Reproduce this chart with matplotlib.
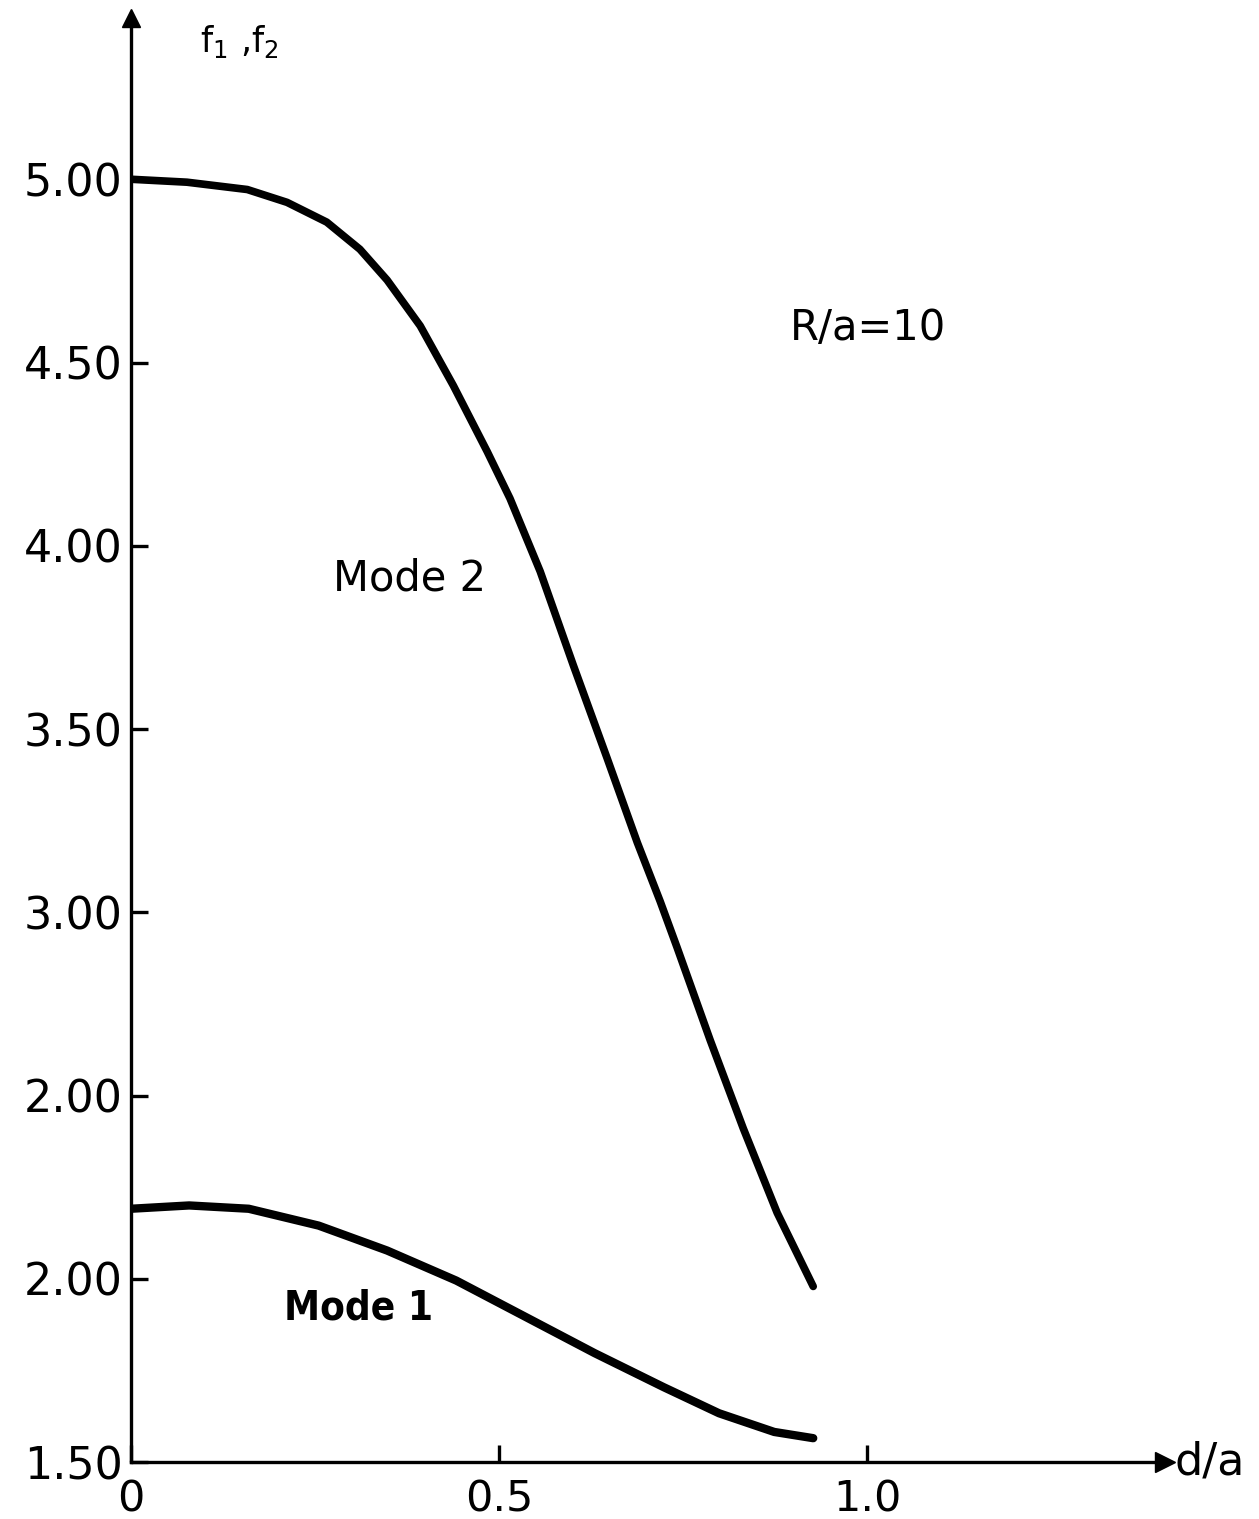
import matplotlib.pyplot as plt

# mode curves (d/a, f)
mode2_x = [0.0, 0.076, 0.158, 0.212, 0.266, 0.311, 0.348, 0.393, 0.438, 0.484,
           0.515, 0.556, 0.601, 0.647, 0.688, 0.719, 0.742, 0.787, 0.832, 0.878, 0.927]
mode2_y = [5.00, 4.992, 4.972, 4.937, 4.883, 4.809, 4.725, 4.600, 4.437, 4.257,
           4.129, 3.930, 3.674, 3.420, 3.190, 3.030, 2.904, 2.651, 2.410, 2.180, 1.979]
mode1_x = [0.0, 0.079, 0.160, 0.255, 0.348, 0.442, 0.537, 0.630, 0.724, 0.799, 0.874, 0.927]
mode1_y = [2.191, 2.200, 2.191, 2.145, 2.077, 1.995, 1.895, 1.797, 1.704, 1.633, 1.582, 1.565]

yticks = [1.5, 2.0, 2.5, 3.0, 3.5, 4.0, 4.5, 5.0]
ytick_labels = ["1.50", "2.00", "2.00", "3.00", "3.50", "4.00", "4.50", "5.00"]
xticks = [0.0, 0.5, 1.0]
xtick_labels = ["0", "0.5", "1.0"]

W, H = 1259, 1519
fig = plt.figure(figsize=(W / 100, H / 100), dpi=100)
x0, x1, y0, y1 = 131, 1165, 1462, 18
ax = fig.add_axes([x0 / W, 1 - y0 / H, (x1 - x0) / W, (y0 - y1) / H])
ax.set_xlim(0, 1.405)
ax.set_ylim(1.5, 5.44)

for s in ["top", "right"]:
    ax.spines[s].set_visible(False)
for s in ["left", "bottom"]:
    ax.spines[s].set_linewidth(2.4)

# arrow heads at the axis ends
ax.plot(1, 0, ">k", ms=14, transform=ax.transAxes, clip_on=False)
ax.plot(0, 1, "^k", ms=13, transform=ax.transAxes, clip_on=False)

ax.plot(mode2_x, mode2_y, color="black", lw=5.5, solid_capstyle="round",
        solid_joinstyle="round")
ax.plot(mode1_x, mode1_y, color="black", lw=6, solid_capstyle="round",
        solid_joinstyle="round")

ax.set_yticks(yticks)
ax.set_yticklabels(ytick_labels, fontsize=32)
ax.set_xticks(xticks)
ax.set_xticklabels(xtick_labels, fontsize=31)
ax.tick_params(axis="y", direction="in", length=12, width=2.4, pad=6)
ax.tick_params(axis="x", direction="in", length=12, width=2.4, pad=12)

ax.text(0.094, 5.375, r"f$_1$ ,f$_2$", fontsize=25, ha="left", va="center")
ax.text(0.895, 4.595, "R/a=10", fontsize=30, ha="left", va="center")
ax.text(0.275, 3.911, "Mode 2", fontsize=30, ha="left", va="center")
ax.text(0.208, 1.919, "Mode 1", fontsize=29, fontweight="bold",
        fontstretch="condensed", ha="left", va="center")
ax.text(1.418, 1.5, "d/a", fontsize=32, ha="left", va="center", clip_on=False)

fig.savefig("out.png", dpi=100)
